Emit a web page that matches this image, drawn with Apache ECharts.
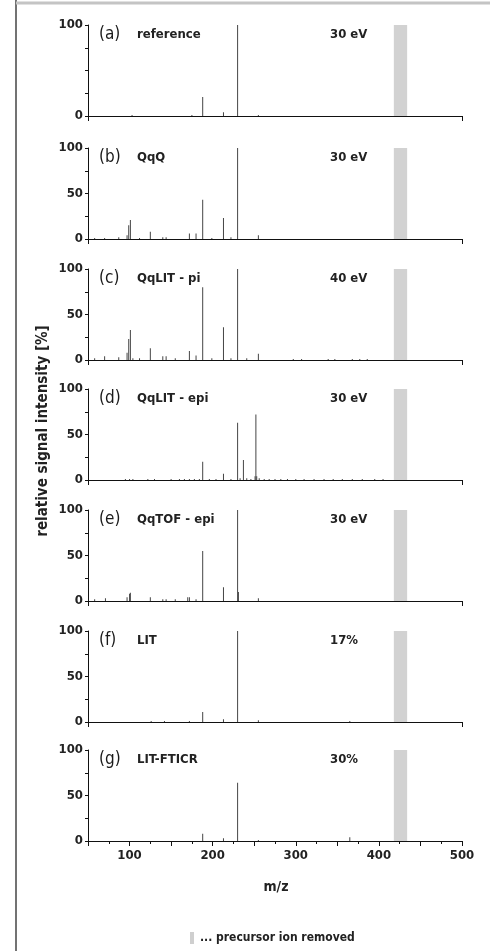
<!DOCTYPE html>
<html>
<head>
<meta charset="utf-8">
<script src="https://cdn.jsdelivr.net/npm/echarts@6/dist/echarts.min.js"></script>
<style>
  html, body { margin: 0; padding: 0; background: #fff; }
  #main { width: 490px; height: 951px; }
</style>
</head>
<body>
<div id="main"></div>
<script>
// peaks per panel: [m/z, relative intensity %]
const peaksA = [[103, 1], [175, 1], [188, 21], [213, 4], [230, 100], [255, 1]];
const peaksB = [[58, 1], [70, 1], [87, 2], [97, 4], [99, 15], [101, 21], [112, 1], [125, 8],
  [140, 2], [144, 2], [172, 6], [180, 6], [188, 43], [199, 1], [213, 23], [222, 2], [230, 100], [255, 4]];
const peaksC = [[58, 2], [70, 4], [87, 3], [97, 8], [99, 23], [101, 33], [104, 2], [112, 2], [125, 13],
  [140, 4], [144, 4], [155, 2], [172, 10], [180, 5], [188, 80], [199, 2], [213, 36], [222, 2], [230, 100],
  [241, 2], [255, 7], [297, 1], [307, 1], [339, 1], [347, 1], [368, 1], [377, 1], [386, 1]];
const peaksD = [[95, 1], [100, 1], [104, 1], [122, 1], [130, 1], [150, 1], [160, 1], [166, 1], [172, 1],
  [178, 1], [184, 1], [188, 20], [196, 1], [204, 1], [213, 7], [222, 1], [230, 63], [233, 2], [237, 22],
  [241, 2], [246, 1], [251, 4], [252, 72], [253, 4], [256, 2], [262, 1], [268, 1], [275, 1], [282, 1],
  [290, 1], [300, 1], [310, 1], [322, 1], [334, 1], [345, 1], [356, 1], [368, 1], [380, 1], [395, 1], [405, 1]];
const peaksE = [[58, 2], [71, 3], [97, 4], [100, 8], [101, 9], [125, 4], [140, 2], [144, 2], [155, 2],
  [170, 4], [172, 4], [180, 2], [188, 55], [213, 15], [230, 100], [231, 10], [255, 3]];
const peaksF = [[126, 1], [142, 1], [172, 1], [188, 11], [213, 3], [230, 100], [255, 2], [365, 1]];
const peaksG = [[188, 8], [213, 3], [230, 64], [255, 1], [365, 4]];

const panelTags = ['(a)', '(b)', '(c)', '(d)', '(e)', '(f)', '(g)'];
const panelNames = ['reference', 'QqQ', 'QqLIT - pi', 'QqLIT - epi', 'QqTOF - epi', 'LIT', 'LIT-FTICR'];
const energies = ['30 eV', '30 eV', '40 eV', '30 eV', '30 eV', '17%', '30%'];
const precursorRange = [418, 434];
const mzTicks = [100, 200, 300, 400, 500];

const allPeaks = [peaksA, peaksB, peaksC, peaksD, peaksE, peaksF, peaksG];
const tops = [25, 148, 269, 389, 510, 631, 750];
const font = "'DejaVu Sans Condensed', 'Liberation Sans', Arial, sans-serif";

const chart = echarts.init(document.getElementById('main'));

const grid = [], xAxis = [], yAxis = [], series = [], graphic = [];

allPeaks.forEach((peaks, i) => {
  const last = i === allPeaks.length - 1;
  grid.push({ left: 88, right: 28, top: tops[i], height: 91 });
  xAxis.push({
    gridIndex: i, type: 'value', min: 50, max: 500,
    interval: 50,
    axisLine: { show: true, lineStyle: { color: '#111', width: 1 } },
    axisTick: last
      ? { show: true, length: 5, lineStyle: { color: '#111' } }
      : { show: true, length: 5, customValues: [50, 500], lineStyle: { color: '#111' } },
    minorTick: { show: last, splitNumber: 2, length: 3, lineStyle: { color: '#111' } },
    splitLine: { show: false },
    axisLabel: {
      show: last, margin: 8, color: '#222', fontFamily: font, fontWeight: 'bold', fontSize: 13,
      formatter: v => (mzTicks.indexOf(v) >= 0 ? v : '')
    }
  });
  yAxis.push({
    gridIndex: i, type: 'value', min: 0, max: 100, interval: 25,
    axisLine: { show: true, lineStyle: { color: '#111', width: 1 } },
    axisTick: { show: true, length: 3, lineStyle: { color: '#111' } },
    splitLine: { show: false },
    axisLabel: {
      margin: 5, color: '#222', fontFamily: font, fontWeight: 'bold', fontSize: 13,
      formatter: v => {
        if (i === 0) return (v === 0 || v === 100) ? v : '';
        return v % 50 === 0 ? v : '';
      }
    }
  });
  series.push({
    type: 'bar', xAxisIndex: i, yAxisIndex: i,
    data: peaks, barWidth: 1,
    itemStyle: { color: '#454545' },
    animation: false,
    markArea: {
      silent: true,
      itemStyle: { color: '#d2d2d2' },
      data: [[{ xAxis: precursorRange[0], yAxis: 0 }, { xAxis: precursorRange[1], yAxis: 100 }]]
    }
  });
  const ty = tops[i] + 10;
  graphic.push(
    { type: 'text', x: 99, y: ty, style: { text: panelTags[i], font: '17px ' + font, fill: '#1a1a1a', verticalAlign: 'middle' } },
    { type: 'text', x: 137, y: ty, style: { text: panelNames[i], font: 'bold 13px ' + font, fill: '#222', verticalAlign: 'middle' } },
    { type: 'text', x: 330, y: ty, style: { text: energies[i], font: 'bold 13px ' + font, fill: '#222', verticalAlign: 'middle' } }
  );
});

graphic.push(
  { type: 'line', shape: { x1: 16, y1: 0, x2: 16, y2: 951 }, style: { stroke: '#444', lineWidth: 1.5 } },
  { type: 'line', shape: { x1: 16, y1: 3, x2: 490, y2: 3 }, style: { stroke: '#c4c4c4', lineWidth: 3 } },
  {
    type: 'text', x: 43, y: 431, rotation: Math.PI / 2,
    style: { text: 'relative signal intensity [%]', font: 'bold 15px ' + font, fill: '#222', align: 'center', verticalAlign: 'middle' }
  },
  { type: 'text', x: 276, y: 887, style: { text: 'm/z', font: 'bold 14px ' + font, fill: '#222', align: 'center', verticalAlign: 'middle' } },
  { type: 'rect', shape: { x: 190, y: 932, width: 4, height: 12 }, style: { fill: '#cfcfcf' } },
  { type: 'text', x: 200, y: 938, style: { text: '... precursor ion removed', font: 'bold 12px ' + font, fill: '#222', verticalAlign: 'middle' } }
);

chart.setOption({
  animation: false,
  grid, xAxis, yAxis, series, graphic
});
</script>
</body>
</html>
